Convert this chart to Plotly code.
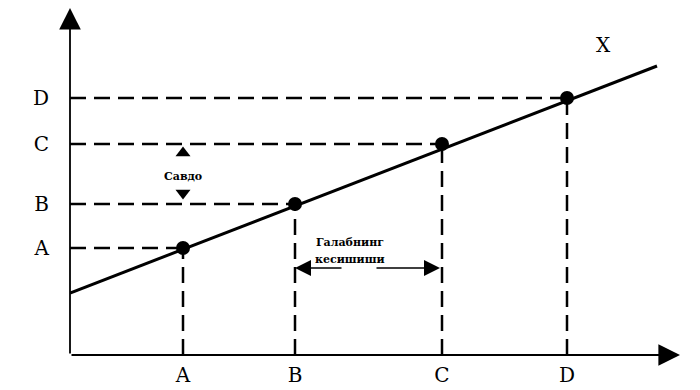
import plotly.graph_objects as go

# points on the curve (income on x, quality on y)
point_labels = ["A", "B", "C", "D"]
point_x = [11.3, 22.5, 37.2, 49.7]
point_y = [10.7, 15.1, 21.1, 25.7]

# the straight line X
line_x = [0.0, 58.7]
line_y = [6.2, 28.9]

x_max = 61.0
y_max = 34.7

serif = "DejaVu Serif"

fig = go.Figure()

# dashed guides to both axes
hx, hy, vx, vy = [], [], [], []
for px, py in zip(point_x, point_y):
    hx += [0, px, None]
    hy += [py, py, None]
    vx += [px, px, None]
    vy += [0, py, None]
fig.add_trace(go.Scatter(x=hx, y=hy, mode="lines",
                         line=dict(color="black", width=2.5, dash="16px,8px")))
fig.add_trace(go.Scatter(x=vx, y=vy, mode="lines",
                         line=dict(color="black", width=2.5, dash="16px,8px")))

fig.add_trace(go.Scatter(x=line_x, y=line_y, mode="lines",
                         line=dict(color="black", width=3)))
fig.add_trace(go.Scatter(x=point_x, y=point_y, mode="markers",
                         marker=dict(color="black", size=14)))

# "Савдо" marker arrows between B and C levels
fig.add_trace(go.Scatter(x=[point_x[0], point_x[0]], y=[20.2, 16.2], mode="markers",
                         marker=dict(color="black", size=13, symbol=["triangle-up", "triangle-down"])))
fig.add_annotation(x=point_x[0], y=17.9, text="<b>Савдо</b>", showarrow=False,
                   font=dict(family=serif, size=11, color="black"))

# "Галабнинг кесишиши" double arrow between B and C
fig.add_annotation(x=28.0, y=11.3, text="<b>Галабнинг</b>", showarrow=False,
                   font=dict(family=serif, size=11, color="black"))
fig.add_annotation(x=28.0, y=9.6, text="<b>кесишиши</b>", showarrow=False,
                   font=dict(family=serif, size=11, color="black"))
for tip, tail in [(point_x[1], 27.3), (point_x[2] - 0.2, 30.5)]:
    fig.add_annotation(x=tip, y=8.7, ax=tail, ay=8.7, axref="x", ayref="y",
                       text="", showarrow=True, arrowhead=2, arrowsize=2,
                       arrowwidth=1.6, arrowcolor="black")

# axes with arrow tips
fig.add_annotation(x=x_max, y=0, ax=0, ay=0, axref="x", ayref="y", text="",
                   showarrow=True, arrowhead=2, arrowsize=2.4, arrowwidth=1.8, arrowcolor="black")
fig.add_annotation(x=0, y=y_max, ax=0, ay=0, axref="x", ayref="y", text="",
                   showarrow=True, arrowhead=2, arrowsize=2.4, arrowwidth=1.8, arrowcolor="black")

fig.add_annotation(x=53.3, y=31.0, text="X", showarrow=False,
                   font=dict(family=serif, size=20, color="black"))
fig.add_annotation(x=-5.6, y=31.6, text="<b>Сифат</b>", showarrow=False, textangle=-90,
                   font=dict(family=serif, size=10, color="black"))
fig.add_annotation(x=60.2, y=-2.6, text="<b>Даромад</b>", showarrow=False,
                   font=dict(family=serif, size=9, color="black"))

# the page adds an 8px body margin, so the plot area is shifted up/left by 8px
fig.update_layout(
    width=700, height=390,
    margin=dict(l=62, r=28, t=0, b=43),
    showlegend=False,
    plot_bgcolor="white", paper_bgcolor="white",
    font=dict(family=serif, size=20, color="black"),
)
fig.update_xaxes(range=[0, x_max], showgrid=False, zeroline=False, showline=False,
                 automargin=False, tickvals=point_x, ticktext=point_labels, ticks="",
                 ticklabelstandoff=6)
fig.update_yaxes(range=[0, y_max], showgrid=False, zeroline=False, showline=False,
                 automargin=False, tickvals=point_y, ticktext=point_labels, ticks="",
                 ticklabelstandoff=20)

fig.write_html("out.html")
